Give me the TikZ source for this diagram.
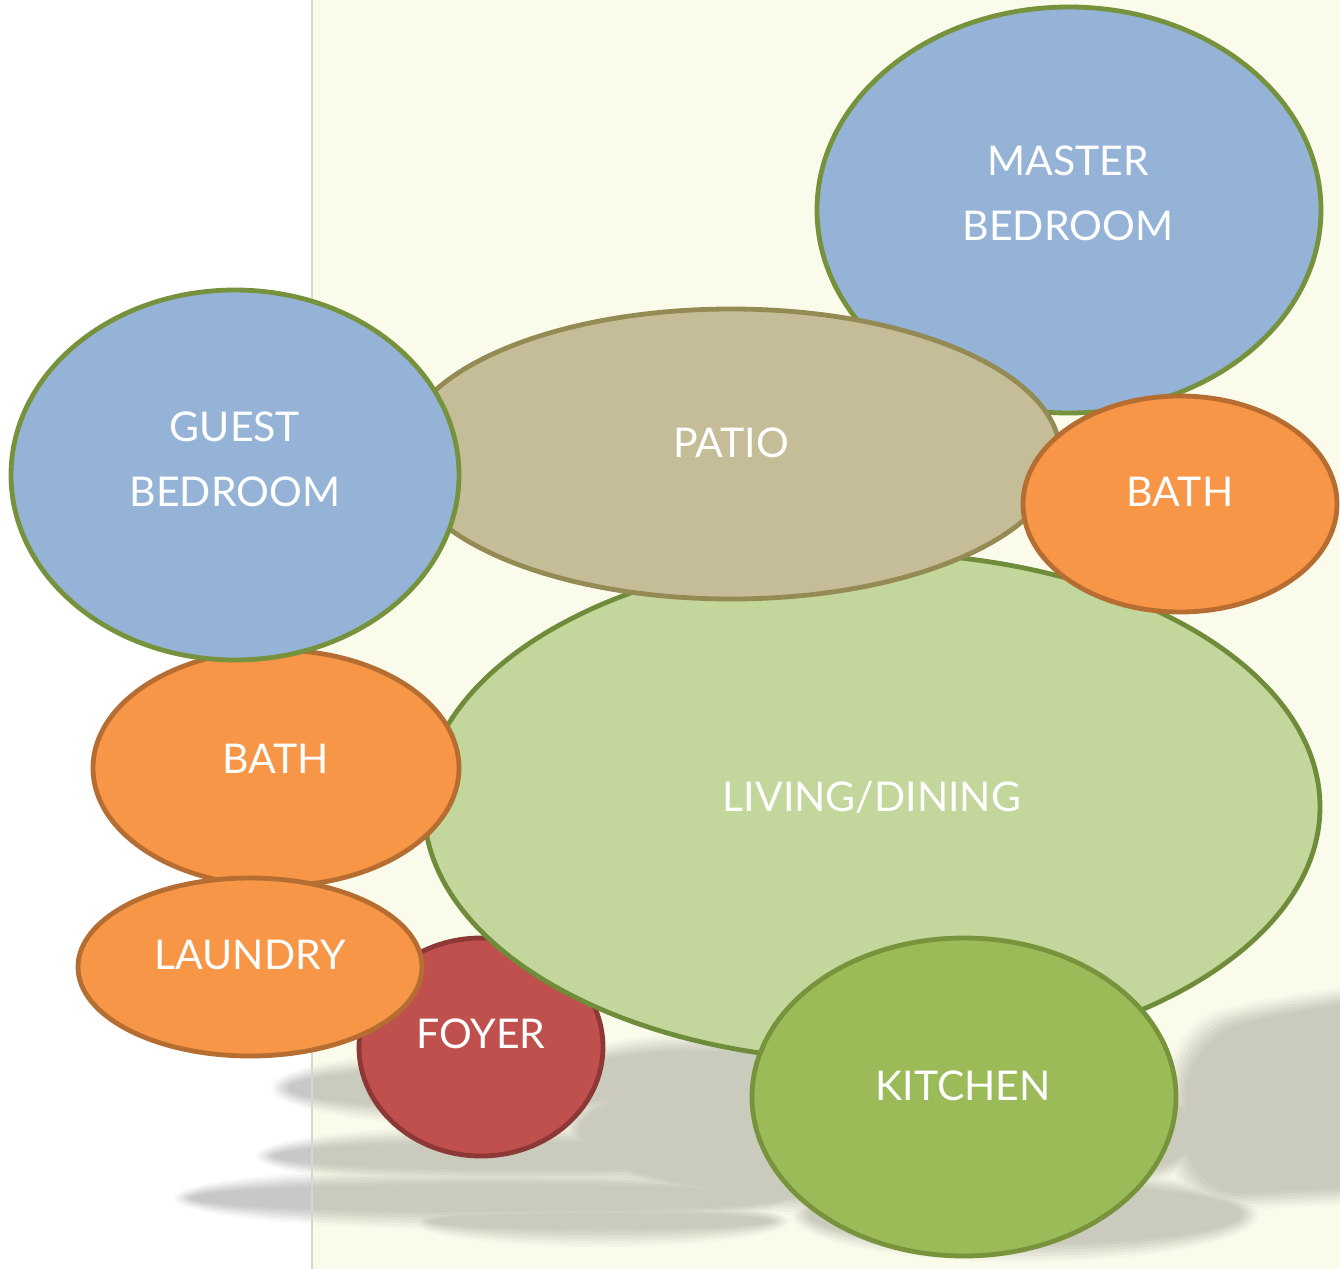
\documentclass[tikz,border=0pt]{standalone}
\usepackage{fontspec}
\setmainfont{Lato}
\usetikzlibrary{shapes.geometric}

\definecolor{cream}{HTML}{FAFBEB}
\definecolor{edgegray}{HTML}{D6D6D6}
\definecolor{shadwhite}{HTML}{C8C8C8}
\definecolor{shadcream}{HTML}{CACBBD}
\definecolor{bedblue}{HTML}{95B3D7}
\definecolor{bedline}{HTML}{76923C}
\definecolor{patiotan}{HTML}{C4BD97}
\definecolor{patioline}{HTML}{948A54}
\definecolor{bathorange}{HTML}{F79646}
\definecolor{bathline}{HTML}{B66D31}
\definecolor{livinggreen}{HTML}{C3D69B}
\definecolor{livingline}{HTML}{6F8C3A}
\definecolor{foyerred}{HTML}{C0504D}
\definecolor{foyerline}{HTML}{8C3836}
\definecolor{kitchengreen}{HTML}{9BBB59}
\definecolor{kitchenline}{HTML}{77933C}

% #1 = how far the blobs grow, #2 = fill colour
\newcommand{\shadowblobs}[2]{%
  \fill[#2] (470,1088) ellipse [x radius={190+(#1)}, y radius={28+(#1)}];
  \fill[#2] (700,1074) ellipse [x radius={130+(#1)}, y radius={32+(#1)}];
  \fill[#2] (530,1156) ellipse [x radius={265+(#1)}, y radius={23+(#1)}];
  \fill[#2] (490,1198) ellipse [x radius={307+(#1)}, y radius={23+(#1)}];
  \fill[#2] (600,1221) ellipse [x radius={180+(#1)}, y radius={17+(#1)}];
  \fill[#2] (1025,1214) ellipse [x radius={225+(#1)}, y radius={39+(#1)}];
  \fill[#2] (890,1132) ellipse [x radius={320+(#1)}, y radius={78+(#1)}];
  \fill[#2, rounded corners=30] ({1176-(#1)},{1030-(#1)}) -- (1300,{1000-(#1)})
    -- (1420,{988-(#1)}) -- (1420,{1192+(#1)}) -- ({1176-(#1)},{1205+(#1)}) -- cycle;
}

\begin{document}
\begin{tikzpicture}[x=0.5pt,y=-0.5pt,
  room/.style={ellipse,draw,line width=2.4pt,inner sep=0pt},
  roomlabel/.style={text=white,align=center,inner sep=0pt,
    font=\fontsize{20.5}{32.5}\selectfont}]
  \useasboundingbox (0,0) rectangle (1340,1269);
  \fill[white] (0,0) rectangle (1340,1269);
  \fill[cream] (312,0) rectangle (1340,1269);

  % soft shadow under the bubbles
  \begin{scope}
    \clip (0,0) rectangle (312,1269);
    \foreach \g/\p in {9/10,6/25,3/42,0/58,-3/75,-6/90,-9/100}{
      \shadowblobs{\g}{shadwhite!\p!white}
    }
  \end{scope}
  \begin{scope}
    \clip (312,0) rectangle (1340,1269);
    \foreach \g/\p in {9/10,6/25,3/42,0/58,-3/75,-6/90,-9/100}{
      \shadowblobs{\g}{shadcream!\p!cream}
    }
  \end{scope}
  \draw[edgegray, line width=0.6pt] (312,0) -- (312,1269);

  % rooms, back to front
  \node[room, fill=foyerred, draw=foyerline, minimum width=122pt, minimum height=109pt] (foyer) at (481,1047) {};
  \node[room, fill=livinggreen, draw=livingline, minimum width=448pt, minimum height=254pt] (living) at (872,807) {};
  \node[room, fill=bedblue, draw=bedline, minimum width=252pt, minimum height=203pt] (master) at (1069,210) {};
  \node[room, fill=patiotan, draw=patioline, minimum width=329pt, minimum height=145pt] (patio) at (731,454) {};
  \node[room, fill=bathorange, draw=bathline, minimum width=157pt, minimum height=108pt] (masterbath) at (1180,504) {};
  \node[room, fill=kitchengreen, draw=kitchenline, minimum width=212pt, minimum height=159pt] (kitchen) at (964,1097) {};
  \node[room, fill=bathorange, draw=bathline, minimum width=183pt, minimum height=118pt] (guestbath) at (276,768) {};
  \node[room, fill=bedblue, draw=bedline, minimum width=224pt, minimum height=185pt] (guest) at (235,475) {};
  \node[room, fill=bathorange, draw=bathline, minimum width=172pt, minimum height=89pt] (laundry) at (250,967) {};

  % names
  \node[roomlabel] (mastertext) at (1068,193) {MASTER\\BEDROOM};
  \node[roomlabel] (patiotext) at (731,443) {PATIO};
  \node[roomlabel] (masterbathtext) at (1180,492) {BATH};
  \node[roomlabel] (guesttext) at (235,459) {GUEST\\BEDROOM};
  \node[roomlabel] (livingtext) at (872,797) {LIVING/DINING};
  \node[roomlabel] (guestbathtext) at (276,759) {BATH};
  \node[roomlabel] (laundrytext) at (250,955) {LAUNDRY};
  \node[roomlabel] (foyertext) at (481,1034) {FOYER};
  \node[roomlabel] (kitchentext) at (963,1086) {KITCHEN};
\end{tikzpicture}
\end{document}
